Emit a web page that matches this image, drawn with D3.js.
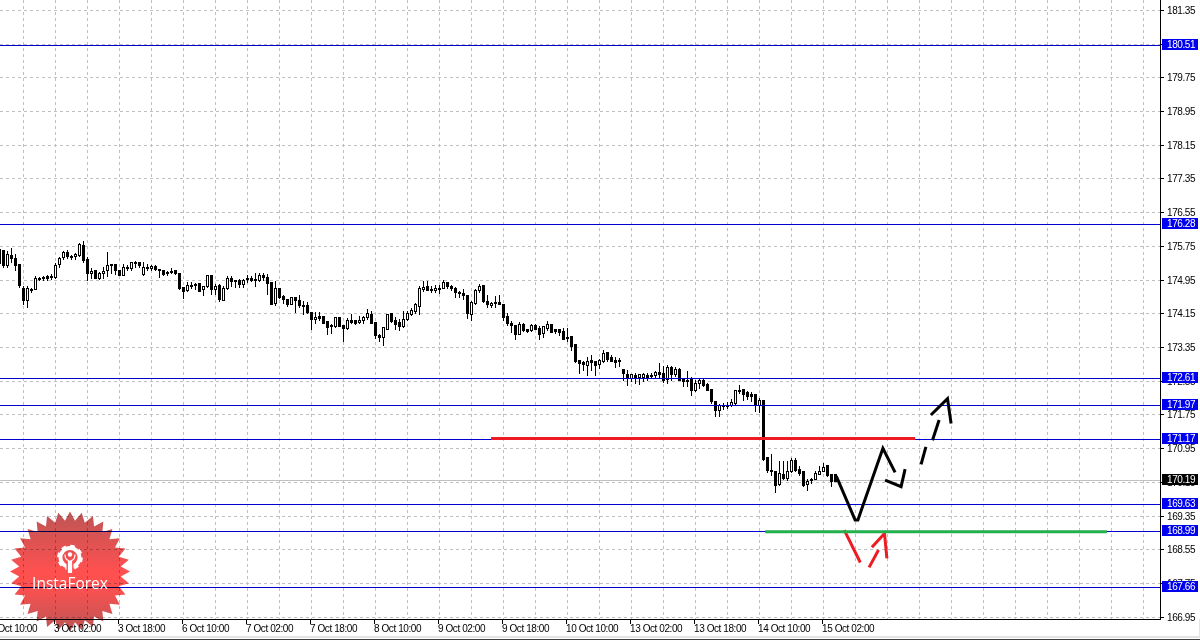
<!DOCTYPE html>
<html><head><meta charset="utf-8">
<script src="https://cdn.jsdelivr.net/npm/d3@7/dist/d3.min.js"></script>
<style>
html,body{margin:0;padding:0;background:#fff;overflow:hidden}
svg{display:block}
text{font-family:"Liberation Sans",Arial,sans-serif;font-size:10px;letter-spacing:-.42px;fill:#000}
</style></head><body><svg id="c" width="1200" height="641"></svg>
<script>
const firstBar=-1;
const opens=[175.68,175.66,175.29,175.54,175.47,175.31,174.75,174.46,174.73,174.73,174.98,175.01,175.03,175.03,175.01,175.31,175.49,175.60,175.52,175.52,175.54,175.78,175.44,175.11,175.18,174.99,175.11,175.17,175.32,175.31,175.18,175.07,175.25,175.22,175.37,175.37,175.08,175.24,175.22,175.27,175.20,175.19,175.13,175.16,175.17,175.10,174.78,174.70,174.82,174.85,174.86,174.73,174.79,175.05,174.73,174.83,174.46,174.75,174.99,174.94,174.95,174.85,174.98,174.98,174.97,174.94,175.05,175.02,174.89,174.40,174.75,174.57,174.48,174.38,174.54,174.46,
174.35,174.35,174.18,174.02,174.08,174.08,173.97,173.87,173.84,174.06,173.87,173.80,174.00,173.99,173.94,174.00,174.06,174.14,173.95,173.64,173.59,173.79,174.15,173.99,173.94,173.85,174.02,174.14,174.20,174.33,174.72,174.81,174.72,174.71,174.76,174.76,174.90,174.79,174.74,174.66,174.63,174.58,174.14,174.40,174.70,174.82,174.45,174.35,174.43,174.43,174.38,174.08,173.93,173.87,173.67,173.89,173.77,173.75,173.87,173.81,173.69,173.80,173.89,173.77,173.77,173.72,173.59,173.61,173.42,173.04,172.99,172.92,173.04,173.01,172.96,
173.01,173.23,173.11,173.05,173.05,172.84,172.72,172.62,172.69,172.63,172.64,172.69,172.69,172.68,172.76,172.74,172.59,172.88,172.72,172.84,172.62,172.58,172.60,172.34,172.50,172.58,172.48,172.36,172.07,171.85,171.97,171.97,171.97,172.02,172.32,172.35,172.28,172.24,172.24,171.97,172.10,170.73,170.44,170.42,170.09,170.35,170.25,170.40,170.68,170.45,170.42,170.10,170.21,170.23,170.35,170.42,170.54,170.35,170.34];
const highs=[175.68,175.68,175.65,175.73,175.58,175.33,174.83,174.83,174.78,175.05,175.03,175.07,175.09,175.11,175.37,175.51,175.65,175.68,175.57,175.60,175.85,175.90,175.52,175.25,175.19,175.15,175.28,175.64,175.35,175.33,175.21,175.35,175.31,175.38,175.41,175.39,175.39,175.35,175.32,175.31,175.23,175.21,175.17,175.24,175.21,175.13,174.79,174.92,174.91,174.89,174.89,174.81,175.07,175.06,174.86,174.86,174.83,175.06,175.05,174.97,174.98,174.99,175.09,175.07,175.13,175.13,175.13,175.11,174.91,174.95,174.78,174.60,174.52,174.57,174.56,174.60,
174.46,174.44,174.21,174.21,174.21,174.10,173.99,173.91,174.08,174.07,173.87,174.07,174.16,174.02,174.10,174.10,174.27,174.24,173.96,173.69,173.84,174.16,174.18,174.08,174.04,174.22,174.24,174.29,174.42,174.82,174.93,174.93,174.82,174.84,174.84,174.97,174.92,174.84,174.79,174.71,174.74,174.59,174.46,174.74,174.88,174.82,174.60,174.44,174.58,174.62,174.40,174.18,173.99,173.88,173.96,173.95,173.81,173.93,173.92,173.87,173.87,173.99,173.91,173.81,173.81,173.83,173.83,173.63,173.45,173.05,173.05,173.13,173.18,173.05,173.08,
173.31,173.23,173.19,173.13,173.11,172.85,172.83,172.73,172.75,172.73,172.75,172.76,172.77,172.81,172.99,172.93,172.95,172.92,172.89,172.88,172.65,172.80,172.67,172.59,172.62,172.62,172.51,172.37,172.09,172.02,172.05,172.06,172.14,172.35,172.48,172.38,172.34,172.30,172.24,172.16,172.10,170.74,170.84,170.43,170.68,170.66,170.66,170.74,170.74,170.54,170.42,170.25,170.27,170.44,170.54,170.63,170.56,170.36,170.34];
const lows=[175.31,175.24,175.24,175.36,175.19,174.78,174.36,174.29,174.65,174.72,174.94,174.95,174.94,174.97,174.98,175.25,175.43,175.47,175.43,175.44,175.51,175.38,174.95,174.98,174.98,174.97,174.98,175.03,175.11,175.09,175.05,175.06,175.17,175.19,175.24,175.25,175.07,175.19,175.19,175.17,175.01,175.06,175.06,175.11,175.09,174.72,174.52,174.68,174.75,174.72,174.67,174.58,174.78,174.60,174.60,174.44,174.46,174.72,174.79,174.78,174.78,174.78,174.89,174.91,174.79,174.91,174.95,174.60,174.36,174.34,174.52,174.40,174.32,174.36,174.18,174.30,
174.14,174.16,173.77,173.92,173.99,173.91,173.65,173.69,173.83,173.84,173.49,173.79,173.92,173.89,173.92,173.92,174.02,173.91,173.57,173.49,173.39,173.77,173.95,173.79,173.75,173.83,173.99,174.10,174.16,174.14,174.68,174.70,174.66,174.66,174.63,174.74,174.74,174.70,174.54,174.54,174.48,174.05,173.99,174.38,174.66,174.43,174.29,174.29,174.30,174.37,173.99,173.87,173.71,173.54,173.65,173.73,173.70,173.73,173.77,173.55,173.59,173.75,173.70,173.69,173.63,173.53,173.50,173.29,173.00,172.74,172.80,172.68,172.80,172.68,172.86,
172.99,173.03,173.01,172.88,172.89,172.56,172.44,172.54,172.50,172.48,172.54,172.58,172.62,172.64,172.65,172.51,172.50,172.58,172.67,172.56,172.43,172.42,172.22,172.30,172.39,172.42,172.32,172.02,171.71,171.72,171.87,171.91,171.94,172.00,172.26,172.10,172.12,172.06,171.84,171.82,170.68,170.38,170.32,169.91,170.07,170.22,170.19,170.38,170.42,170.32,170.06,169.95,170.13,170.21,170.33,170.40,170.30,170.06,170.17];
const closes=[175.35,175.29,175.57,175.47,175.29,174.83,174.46,174.75,174.72,174.99,174.99,174.99,174.99,175.01,175.30,175.47,175.61,175.51,175.49,175.55,175.80,175.41,175.11,175.16,174.99,175.11,175.16,175.30,175.30,175.17,175.07,175.25,175.23,175.36,175.36,175.30,175.25,175.22,175.28,175.21,175.18,175.08,175.12,175.12,175.11,174.75,174.68,174.83,174.83,174.82,174.69,174.79,175.05,174.72,174.79,174.48,174.75,174.99,174.91,174.92,174.84,174.95,174.96,174.95,174.95,175.05,175.02,174.86,174.38,174.75,174.54,174.48,174.38,174.54,174.46,174.34,
174.32,174.18,174.01,174.07,174.05,173.93,173.83,173.85,174.07,173.84,173.80,174.00,173.95,173.93,174.00,174.07,174.17,173.92,173.64,173.59,173.83,174.13,173.97,173.89,173.85,174.02,174.15,174.22,174.37,174.76,174.78,174.71,174.70,174.76,174.74,174.90,174.80,174.76,174.66,174.63,174.59,174.16,174.43,174.71,174.81,174.44,174.37,174.40,174.39,174.38,174.06,173.91,173.87,173.67,173.89,173.75,173.73,173.88,173.78,173.67,173.84,173.89,173.71,173.73,173.70,173.55,173.57,173.37,173.02,172.98,172.96,173.01,173.00,172.92,173.04,
173.22,173.07,173.03,173.00,173.01,172.74,172.62,172.71,172.62,172.71,172.70,172.65,172.67,172.76,172.72,172.58,172.88,172.72,172.83,172.58,172.54,172.56,172.34,172.50,172.56,172.44,172.34,172.06,171.85,171.97,171.95,171.94,172.05,172.32,172.31,172.24,172.20,172.18,171.98,172.10,170.70,170.43,170.40,170.07,170.36,170.25,170.42,170.66,170.43,170.36,170.07,170.17,170.20,170.36,170.42,170.51,170.31,170.17,170.17];

const priceTicks=[181.35,180.55,179.75,178.95,178.15,177.35,176.55,175.75,174.95,174.15,173.35,172.55,171.75,170.95,170.15,169.35,168.55,167.75,166.95];
const levelPrices=[180.51,176.28,172.61,171.97,171.17,169.63,168.99,167.66];
const lastPrice=170.19;
const timeBars=[-3,13,29,45,61,77,93,109,125,141,157,173,189,205];
const timeLabels=["2 Oct 10:00","3 Oct 02:00","3 Oct 18:00","6 Oct 10:00","7 Oct 02:00","7 Oct 18:00","8 Oct 10:00","9 Oct 02:00","9 Oct 18:00","10 Oct 10:00","13 Oct 02:00","13 Oct 18:00","14 Oct 10:00","15 Oct 02:00"];
const gridBars=d3.range(5,289,8);

// hand-drawn annotations: [bar index, price]
const blackStrokes=[
 [[208.2,170.30],[212.9,169.26],[213.6,169.26],[219.85,170.96],[222.9,170.39]],
 [[220.4,170.205],[224.4,170.05],[225.4,170.465]],
 [[229.4,170.58],[230.6,170.995]],
 [[232.25,171.15],[233.9,171.63]],
 [[231.85,171.75],[236,172.14],[236.9,171.55]]];
const redStrokes=[
 [[210.2,169.02],[214.2,168.25]],
 [[216.4,168.135],[218.75,168.545]],
 [[217.1,168.61],[220.25,168.94],[220.85,168.35]]];
const resistanceSeg=[[121.9,171.19],[227.9,171.19]];
const supportSeg=[[190.4,168.98],[275.85,168.98]];

const svg=d3.select("#c");
const R=1160,B=619;
const x=d3.scaleLinear().domain([0,289]).range([3.5,1159.5]);
const y=d3.scaleLinear().domain([181.35,166.95]).range([10.4,617.3]);
const py=v=>Math.floor(y(v))+.5;

const defs=svg.append("defs");
defs.append("clipPath").attr("id","plot").append("rect").attr("width",R).attr("height",B);
const g=defs.append("linearGradient").attr("id","badge").attr("x1",0).attr("x2",0).attr("y1",0).attr("y2",1);
[[0,"#bd5555"],[.5,"#ff5050"],[.62,"#ff5050"],[1,"#bd5555"]].forEach(s=>g.append("stop").attr("offset",s[0]).attr("stop-color",s[1]));

const plot=svg.append("g").attr("clip-path","url(#plot)");
// grid
plot.selectAll(".gh").data(priceTicks).join("line").attr("x1",0).attr("x2",R)
 .attr("y1",py).attr("y2",py).attr("stroke","#c0c0c0").attr("stroke-dasharray","3,3").attr("shape-rendering","crispEdges");
plot.selectAll(".gv").data(gridBars).join("line").attr("x1",x).attr("x2",x).attr("y1",0).attr("y2",B)
 .attr("stroke","#c0c0c0").attr("stroke-dasharray","3,3").attr("shape-rendering","crispEdges");
// last price
plot.append("line").attr("x1",0).attr("x2",R).attr("y1",py(lastPrice)).attr("y2",py(lastPrice)).attr("stroke","#c0c0c0").attr("shape-rendering","crispEdges");
// candles
const idx=d3.range(opens.length);
const barX=i=>x(i+firstBar);
plot.selectAll(".w").data(idx).join("line").attr("x1",barX).attr("x2",barX)
 .attr("y1",i=>py(highs[i])).attr("y2",i=>py(lows[i])).attr("stroke","#000").attr("shape-rendering","crispEdges");
plot.selectAll(".b").data(idx).join("rect")
 .attr("x",i=>barX(i)-1).attr("width",2)
 .attr("y",i=>py(Math.max(opens[i],closes[i])))
 .attr("height",i=>Math.max(1,py(Math.min(opens[i],closes[i]))-py(Math.max(opens[i],closes[i]))))
 .attr("fill",i=>closes[i]<opens[i]?"#000":"#fff").attr("stroke","#000").attr("shape-rendering","crispEdges");
// levels
plot.selectAll(".lv").data(levelPrices).join("line").attr("x1",0).attr("x2",R).attr("y1",py).attr("y2",py)
 .attr("stroke","#0000d0").attr("shape-rendering","crispEdges");
// annotations
const ln=d3.line().x(d=>x(d[0])).y(d=>y(d[1]));
plot.selectAll(".bs").data(blackStrokes).join("path").attr("d",ln).attr("fill","none").attr("stroke","#000").attr("stroke-width",3);
plot.selectAll(".rs").data(redStrokes).join("path").attr("d",ln).attr("fill","none").attr("stroke","#ed1c24").attr("stroke-width",3);
plot.append("path").attr("d",ln(resistanceSeg)).attr("stroke","#ed1c24").attr("stroke-width",3).attr("fill","none");
plot.append("path").attr("d",ln(supportSeg)).attr("stroke","#22b14c").attr("stroke-width",3).attr("fill","none");

// axes
const ay=svg.append("g").attr("transform",`translate(${R+.5},0)`)
 .call(d3.axisRight(y).tickValues(priceTicks).tickFormat(d3.format(".2f")).tickSizeInner(3).tickSizeOuter(0));
ay.select(".domain").attr("stroke","#000").attr("d",`M0,0V${B}`).attr("shape-rendering","crispEdges");
ay.selectAll(".tick").attr("transform",d=>`translate(0,${py(d)})`);
ay.selectAll("line").attr("shape-rendering","crispEdges");
ay.selectAll("text").attr("x",6.5).attr("dy",".36em").attr("font-family",null).attr("font-size",null);

const ax=svg.append("g").attr("transform",`translate(-2,${B+.5})`)
 .call(d3.axisBottom(x).tickValues(timeBars).tickFormat((d,i)=>timeLabels[i]).tickSizeInner(4).tickSizeOuter(0));
ax.select(".domain").attr("d",`M0,0H${R+2.5}`).attr("stroke","#000").attr("shape-rendering","crispEdges");
ax.selectAll("line").attr("shape-rendering","crispEdges");
ax.selectAll("text").attr("text-anchor","start").attr("x",0).attr("y",5.4).attr("dy",".71em").attr("font-family",null).attr("font-size",null);

// price labels
const tags=svg.selectAll(".tag").data(levelPrices.map(v=>[v,"#0000f0"]).concat([[lastPrice,"#000"]])).join("g")
 .attr("transform",d=>`translate(1162,${py(d[0])})`);
tags.append("rect").attr("x",0).attr("y",-6.5).attr("width",36).attr("height",11).attr("fill",d=>d[1]);
tags.append("text").attr("x",5).attr("y",-1).attr("dy",".36em").style("fill","#fff").text(d=>d3.format(".2f")(d[0]));

// window frame at the bottom
svg.append("rect").attr("x",0).attr("y",636).attr("width",1200).attr("height",2).attr("fill","#e4e4e4");
svg.append("rect").attr("x",0).attr("y",639).attr("width",1200).attr("height",1).attr("fill","#404040");
svg.append("rect").attr("x",1199).attr("y",619).attr("width",1).attr("height",19).attr("fill","#e4e4e4");

// badge
const logo=svg.append("g").attr("transform","translate(70,571.5)");
const spikes=32;
const star=d3.range(spikes*2).map(k=>[k*Math.PI/spikes,k%2?51:60]);
logo.append("path").attr("d",d3.lineRadial().curve(d3.curveLinearClosed)(star)).attr("fill","url(#badge)").style("mix-blend-mode","multiply");
const gear=logo.append("g").attr("transform","translate(0,-14)");
gear.append("circle").attr("r",9.5).attr("fill","none").attr("stroke","#fff").attr("stroke-width",3.8);
gear.append("circle").attr("r",11.6).attr("fill","none").attr("stroke","#fff").attr("stroke-width",2.4).attr("stroke-dasharray","4.6,4.5");
gear.append("rect").attr("x",-3.5).attr("y",6).attr("width",7).attr("height",8).attr("fill","#ff5050");
gear.append("circle").attr("cy",-3).attr("r",2.2).attr("fill","#fff");
gear.append("path").attr("d","M-5,-3Q-5,2 -1.5,3V15H1.5V3Q5,2 5,-3").attr("fill","none").attr("stroke","#fff").attr("stroke-width",1.2);
gear.append("path").attr("d","M-1.5,3V15H1.5V3Z").attr("fill","#fff");
logo.append("text").attr("text-anchor","middle").attr("y",17.5).style("font-family","'Open Sans',sans-serif").style("font-size","15.5px").style("letter-spacing","0").style("fill","#fff").text("InstaForex");
</script></body></html>
